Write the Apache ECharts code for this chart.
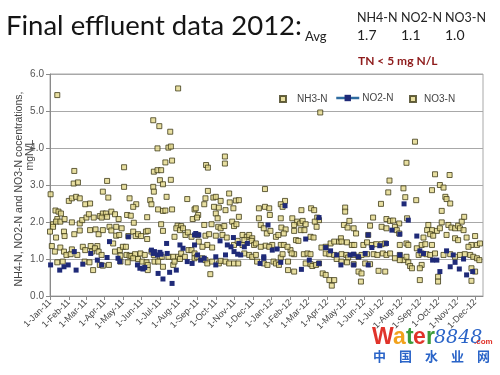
<!DOCTYPE html>
<html><head><meta charset="utf-8">
<script src="https://cdn.jsdelivr.net/npm/echarts@6/dist/echarts.min.js"></script>
<style>html,body{margin:0;padding:0;background:#fff}#c{width:500px;height:375px}</style>
</head><body><div id="c"></div>
<script>
// ---- data: [days since 1-Jan-2011, mg N/L] ----
const monthNames = ['Jan','Feb','Mar','Apr','May','Jun','Jul','Aug','Sep','Oct','Nov','Dec'];
const seriesNames = ['NH3-N','NO2-N','NO3-N'];
const avgHeaders = ['NH4-N','NO2-N','NO3-N'];
const avgValues = ['1.7','1.1','1.0'];
const yTicks = [0,1,2,3,4,5,6];

const nh3 = [
[12,5.43],[211,5.61],[170,4.75],[180,4.59],[198,4.44],[177,3.99],[195,4.01],[199,4.04],[190,3.61],[201,3.66],[122,3.48],[40,3.38],[171,3.36],[177,3.40],[183,3.40],[257,3.54],[260,3.47],[288,3.77],[288,3.58],
[445,4.96],[601,4.17],[587,3.60],[634,3.29],[658,3.27],
[39,3.04],[46,3.07],[94,3.11],[122,2.95],[170,2.95],[181,3.13],[186,3.02],[199,3.14],[171,2.82],[1,2.75],[87,2.82],[96,2.66],[131,2.64],[142,2.48],[137,2.41],[165,2.59],[167,2.48],[178,2.34],[186,2.30],[192,2.68],[190,2.31],[201,2.34],[226,2.62],[31,2.57],[36,2.64],[43,2.68],[49,2.64],[58,2.48],[66,2.50],[9,2.31],[14,2.28],[18,2.23],[12,2.08],[5,1.94],[5,1.87],[10,2.01],[17,2.01],[24,2.08],[36,1.99],[49,1.96],[53,2.05],[60,2.12],[64,2.21],[72,2.12],[82,2.16],[87,2.23],[92,2.23],[85,2.12],[94,2.14],[101,2.28],[107,2.21],[113,2.08],[127,2.19],[133,2.17],[138,1.98],[160,2.13],[183,1.94],[210,1.90],[216,1.89],[235,2.08],[238,2.34],[0,1.74],[10,1.58],[23,1.74],[24,1.62],[40,1.67],[49,1.77],[66,1.78],[75,1.80],[80,1.67],[87,1.78],[98,1.87],[101,1.77],[109,1.87],[109,1.63],[114,1.65],[118,1.83],[129,1.62],[137,1.74],[141,1.62],[145,1.67],[150,1.62],[158,1.74],[161,1.76],[160,1.54],[186,1.76],[208,1.83],[214,1.78],[219,1.83],[223,1.65],[227,1.72],[233,1.60],[205,1.60],[3,1.35],[67,1.35],[78,1.35],[104,1.42],
[260,2.84],[256,2.64],[254,2.48],[269,2.66],[273,2.68],[281,2.57],[295,2.77],[296,2.53],[306,2.58],[311,2.59],[354,2.89],[387,2.57],[270,2.41],[278,2.39],[289,2.32],[302,2.37],[240,2.37],[244,2.19],[242,2.12],[273,2.23],[276,2.10],[311,2.14],[344,2.37],[354,2.41],[361,2.37],[362,2.19],[380,2.48],[383,2.41],[414,2.32],[430,2.37],[435,2.32],[380,2.10],[399,2.10],[407,2.01],[412,1.96],[416,2.03],[421,1.94],[402,1.92],[440,2.12],[443,2.05],[436,2.01],[439,1.87],[254,1.92],[266,1.94],[277,1.87],[281,1.83],[287,1.89],[300,2.01],[303,1.89],[307,1.94],[344,2.10],[347,1.92],[352,1.83],[357,1.69],[363,1.76],[372,1.60],[376,1.65],[381,1.85],[388,1.80],[385,1.69],[402,1.76],[413,1.78],[419,1.78],[429,1.60],[434,1.58],[405,1.51],[409,1.49],[243,1.65],[256,1.63],[262,1.67],[273,1.63],[284,1.65],[291,1.58],[317,1.65],[324,1.60],[328,1.65],[333,1.56],[303,1.38],[309,1.49],[317,1.38],[245,1.47],[259,1.38],[320,1.51],[332,1.49],[336,1.38],[339,1.42],[355,1.36],[366,1.38],[380,1.38],[385,1.38],[462,1.42],[468,1.47],[476,1.47],[479,1.56],
[559,3.12],[557,2.80],[582,2.91],[585,2.67],[603,2.59],[629,2.86],[642,3.00],[648,2.93],[651,2.68],[653,2.62],[659,2.50],[545,2.49],[486,2.39],[486,2.28],[645,2.30],[532,2.12],[554,2.08],[560,2.03],[565,2.04],[575,1.96],[588,2.10],[493,2.03],[484,1.92],[490,1.85],[500,1.83],[504,1.69],[527,1.90],[524,1.65],[546,1.87],[554,1.83],[568,1.87],[571,1.78],[575,1.69],[623,1.92],[629,1.78],[637,1.76],[642,1.83],[645,1.99],[656,1.92],[661,1.85],[667,1.83],[672,1.90],[678,2.01],[682,2.14],[675,1.83],[681,1.78],[653,1.65],[667,1.56],[672,1.51],[686,1.58],[700,1.62],[621,1.78],[626,1.67],[631,1.63],[615,1.58],[480,1.47],[489,1.45],[497,1.38],[501,1.38],[516,1.38],[522,1.45],[530,1.38],[537,1.40],[546,1.40],[552,1.42],[576,1.38],[587,1.42],[590,1.38],[612,1.38],[618,1.40],[629,1.38],[694,1.38],[703,1.38],[708,1.42]
];

const no2 = [
[98,1.47],[129,1.60],[67,1.15],[40,1.20],[1,0.84],[16,0.70],[23,0.79],[30,0.84],[43,0.70],[54,0.86],[78,0.97],[85,0.84],[94,1.04],[112,1.02],[115,0.93],[144,0.84],[148,0.75],[153,0.73],[156,0.77],[167,1.24],[170,1.15],[172,1.20],[177,1.11],[181,1.18],[183,1.13],[192,1.42],[193,1.15],[178,0.61],[186,0.46],[197,0.64],[201,0.34],[208,0.70],[214,1.38],[219,1.29],[226,0.93],[234,0.88],[238,1.65],[238,1.38],
[387,2.44],[443,2.12],[359,1.92],[240,1.69],[245,1.65],[280,1.49],[292,1.38],[298,1.33],[302,1.58],[311,1.42],[320,1.33],[325,1.42],[352,1.02],[366,1.24],[374,1.27],[421,1.54],[243,1.11],[248,0.97],[254,1.02],[273,1.06],[289,1.11],[273,0.84],[303,1.20],[309,1.13],[314,1.11],[346,0.88],[352,1.06],[380,0.91],[414,0.72],[427,0.97],[443,0.88],[454,1.31],[462,1.22],[472,1.11],[479,0.84],
[583,2.49],[590,2.05],[563,1.78],[576,1.67],[604,1.62],[524,1.65],[494,1.11],[500,1.13],[508,1.06],[519,1.15],[530,1.31],[543,1.36],[554,1.42],[576,1.11],[609,1.22],[615,1.15],[653,1.22],[664,1.11],[681,1.00],[500,0.84],[524,0.84],[630,0.97],[637,0.97],[642,0.66],[659,0.79],[667,0.91],[674,0.73],[686,0.57],[696,0.66]
];

const no3 = [
[8,1.20],[17,1.31],[23,1.20],[27,1.11],[34,1.13],[36,1.26],[45,1.11],[54,1.33],[58,1.24],[69,1.20],[74,1.29],[80,1.20],[85,1.11],[107,1.20],[115,1.24],[120,1.33],[125,1.33],[116,1.09],[126,1.11],[131,1.09],[134,1.08],[140,1.13],[149,1.15],[156,1.11],[167,1.20],[171,1.11],[181,1.06],[184,1.06],[195,1.06],[203,1.06],[211,1.06],[216,1.15],[222,1.06],[228,1.24],[233,1.24],[238,1.15],[12,0.91],[21,0.93],[57,0.93],[65,0.91],[82,0.84],[87,0.82],[97,0.84],[116,0.93],[128,0.91],[137,1.02],[145,1.00],[152,0.93],[159,0.91],[161,0.84],[172,0.93],[186,0.79],[203,0.84],[205,0.93],[214,1.00],[238,1.02],[71,0.70],[161,0.70],[178,0.93],
[402,1.13],[418,1.13],[424,1.15],[429,1.13],[447,1.31],[454,1.33],[454,1.15],[460,1.13],[468,1.11],[472,1.00],[242,1.06],[251,1.02],[256,0.97],[259,0.88],[267,0.93],[278,0.88],[281,0.95],[289,0.93],[295,0.88],[303,0.88],[310,0.88],[320,1.15],[328,1.11],[333,1.06],[339,1.11],[341,0.93],[352,0.88],[358,0.84],[368,0.93],[372,0.88],[377,0.84],[380,1.04],[383,1.13],[392,0.93],[396,1.24],[398,1.15],[421,0.88],[429,0.86],[432,0.81],[438,0.84],[443,0.88],[449,0.61],[454,0.57],[460,0.43],[464,0.28],[468,0.43],[392,0.70],[402,0.66],[264,0.59],[251,1.33],[267,1.31],[347,1.33],[361,1.33],[391,1.33],
[480,1.13],[488,1.11],[491,1.04],[500,1.11],[508,1.06],[513,1.11],[522,1.13],[533,1.13],[539,1.11],[548,1.15],[554,1.11],[560,1.15],[568,1.02],[576,1.11],[582,0.97],[587,1.06],[607,1.11],[612,1.15],[620,1.13],[626,1.11],[634,1.15],[648,1.11],[659,1.13],[667,1.06],[675,1.11],[683,1.13],[692,1.11],[697,1.06],[703,1.02],[707,0.97],[480,0.93],[489,0.91],[500,0.86],[519,0.88],[527,0.86],[576,0.97],[590,0.91],[593,0.81],[596,0.75],[612,0.84],[609,0.75],[694,0.75],[700,0.66],[508,0.66],[513,0.61],[512,0.39],[541,0.68],[552,0.66],[609,0.43],[639,0.52],[639,0.39],[694,0.41],[604,1.29],[689,1.33]
];

// ---- rendering ----
const toPoint = p => [new Date(2011, 0, 1 + p[0]).getTime(), p[1]];
const DAY = 86400000;
const fmtDate = v => { const d = new Date(v); return d.getDate() + '-' + monthNames[d.getMonth()] + '-' + String(d.getFullYear()).slice(2); };

const yellowStyle = { color: '#E2D78A', borderColor: '#3F3B18', borderWidth: 1 };
const navy = '#1F2A78';
const axisFont = 'Liberation Sans';
const headFont = 'Lato';

const chart = echarts.init(document.getElementById('c'), null, { renderer: 'canvas' });
chart.setOption({
  animation: false,
  backgroundColor: '#ffffff',
  grid: { left: 50, right: 17, top: 74, bottom: 79, show: true, borderColor: '#A8A8A8', borderWidth: 1, backgroundColor: 'transparent' },
  xAxis: {
    type: 'time',
    min: new Date(2011, 0, 1).getTime(),
    max: new Date(2012, 11, 14).getTime(),
    splitNumber: 24,
    minInterval: 28 * DAY,
    maxInterval: 31 * DAY,
    axisLine: { show: true, lineStyle: { color: '#8A8A8A' } },
    axisTick: { show: true, length: 4, lineStyle: { color: '#8A8A8A' } },
    splitLine: { show: false },
    axisLabel: { rotate: 45, fontSize: 9, color: '#444', fontFamily: axisFont, margin: 5, formatter: fmtDate, showMaxLabel: false, hideOverlap: false }
  },
  yAxis: {
    type: 'value', min: yTicks[0], max: yTicks[yTicks.length - 1], interval: 1,
    axisLine: { show: true, lineStyle: { color: '#8A8A8A' } },
    axisTick: { show: true, length: 4, lineStyle: { color: '#8A8A8A' } },
    splitLine: { show: true, lineStyle: { color: '#A8A8A8', width: 1 } },
    axisLabel: { fontSize: 10, color: '#555', fontFamily: axisFont, margin: 6, formatter: v => v.toFixed(1) }
  },
  legend: [
    { data: [seriesNames[0]], left: 274, top: 89, itemWidth: 6, itemHeight: 6, textStyle: { fontSize: 10, color: '#444', fontFamily: axisFont, padding: [0, 0, 0, 6] } },
    { data: [{ name: seriesNames[1], lineStyle: { color: '#2F6CA0', width: 2.5, opacity: 1 }, itemStyle: { color: navy } }], left: 330, top: 88, itemWidth: 23, itemHeight: 8, textStyle: { fontSize: 10, color: '#444', fontFamily: axisFont, padding: [0, 0, 0, -2] } },
    { data: [seriesNames[2]], left: 404, top: 89, itemWidth: 6, itemHeight: 6, textStyle: { fontSize: 10, color: '#444', fontFamily: axisFont, padding: [0, 0, 0, 3] } }
  ],
  series: [
    { name: seriesNames[0], type: 'scatter', symbol: 'rect', symbolSize: 5, itemStyle: yellowStyle, data: nh3.map(toPoint) },
    { name: seriesNames[1], type: 'line', symbol: 'rect', symbolSize: 5, showSymbol: true, showAllSymbol: true,
      lineStyle: { opacity: 0, width: 0 }, itemStyle: { color: navy }, data: no2.slice().sort((a, b) => a[0] - b[0]).map(toPoint) },
    { name: seriesNames[2], type: 'scatter', symbol: 'rect', symbolSize: 5, itemStyle: yellowStyle, data: no3.map(toPoint) }
  ],
  graphic: [
    { type: 'text', left: 6, top: 12, style: { text: 'Final effluent data 2012:', font: '400 27.5px ' + headFont, fill: '#151515' } },
    { type: 'text', left: 305, top: 30, style: { text: 'Avg', font: '400 13px ' + headFont, fill: '#222' } },
    { type: 'text', left: 357, top: 11, style: { text: avgHeaders[0], font: '400 12.5px ' + headFont, fill: '#222' } },
    { type: 'text', left: 401, top: 11, style: { text: avgHeaders[1], font: '400 12.5px ' + headFont, fill: '#222' } },
    { type: 'text', left: 445, top: 11, style: { text: avgHeaders[2], font: '400 12.5px ' + headFont, fill: '#222' } },
    { type: 'text', left: 357, top: 28, style: { text: avgValues[0], font: '400 14px ' + headFont, fill: '#222' } },
    { type: 'text', left: 401, top: 28, style: { text: avgValues[1], font: '400 14px ' + headFont, fill: '#222' } },
    { type: 'text', left: 445, top: 28, style: { text: avgValues[2], font: '400 14px ' + headFont, fill: '#222' } },
    { type: 'text', left: 358, top: 55, style: { text: 'TN < 5 mg N/L', font: '700 12px ' + headFont, fill: '#8E1B1B' } },
    { type: 'text', x: 19, y: 189, rotation: Math.PI / 2, style: { text: 'NH4-N, NO2-N and NO3-N cocentrations,', font: '10.5px ' + axisFont, fill: '#444', align: 'center', verticalAlign: 'middle' } },
    { type: 'text', x: 30, y: 155, rotation: Math.PI / 2, style: { text: 'mgN/L', font: '10.5px ' + axisFont, fill: '#444', align: 'center', verticalAlign: 'middle' } },
    { type: 'text', left: 372, top: 326, style: { text: 'W', font: '700 23px ' + axisFont, fill: '#E0332A' } },
    { type: 'text', left: 393, top: 326, style: { text: 'a', font: '700 23px ' + axisFont, fill: '#F2A21C' } },
    { type: 'text', left: 406, top: 326, style: { text: 't', font: '700 23px ' + axisFont, fill: '#3A9C3A' } },
    { type: 'text', left: 413, top: 326, style: { text: 'e', font: '700 23px ' + axisFont, fill: '#E0332A' } },
    { type: 'text', left: 426, top: 326, style: { text: 'r', font: '700 23px ' + axisFont, fill: '#3A9C3A' } },
    { type: 'text', left: 434, top: 329, style: { text: '8848', font: 'italic 400 19px "DejaVu Serif"', fill: '#2A64C8' } },
    { type: 'text', left: 474, top: 338, style: { text: '.com', font: '700 8px ' + axisFont, fill: '#E0332A' } },
    { type: 'text', left: 373, top: 350, style: { text: '中　国　水　业　网', font: '700 13px "Noto Sans CJK SC"', fill: '#2A64C8' } }
  ]
});
</script></body></html>
